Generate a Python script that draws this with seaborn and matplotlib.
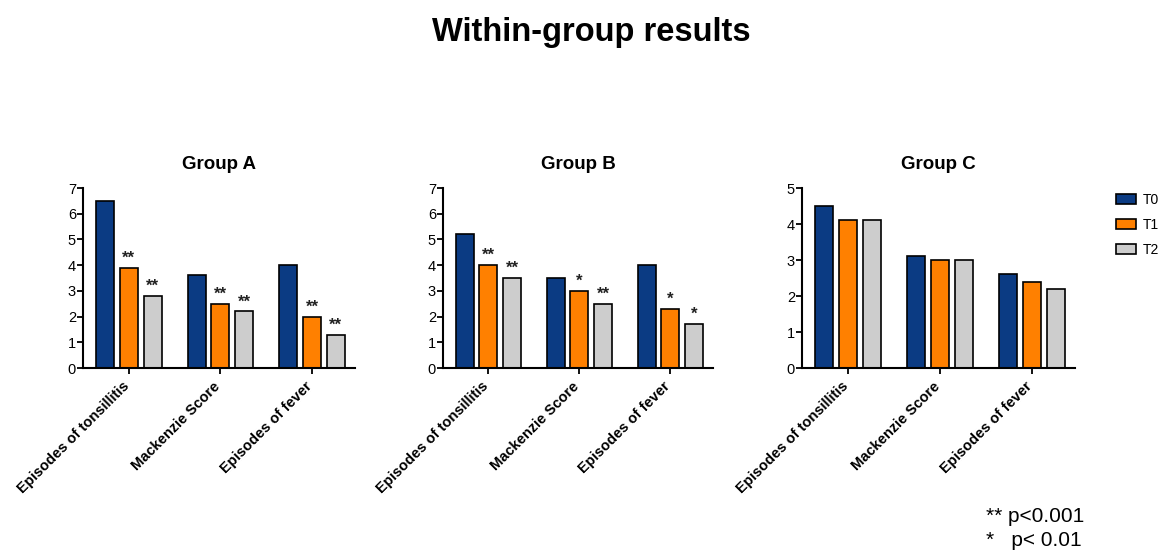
import matplotlib
matplotlib.use("Agg")
import matplotlib.pyplot as plt
import matplotlib.transforms as mtransforms
import seaborn as sns
import pandas as pd
from matplotlib.patches import Patch

sns.set_theme(style="white")
plt.rcParams["font.family"] = ["Liberation Sans", "DejaVu Sans"]
plt.rcParams["text.color"] = "black"
plt.rcParams["xtick.color"] = "black"
plt.rcParams["ytick.color"] = "black"

measures = ["Episodes of tonsillitis", "Mackenzie Score", "Episodes of fever"]
times = ["T0", "T1", "T2"]

group_a_t0 = [6.5, 3.6, 4.0]
group_a_t1 = [3.9, 2.5, 2.0]
group_a_t2 = [2.8, 2.2, 1.3]

group_b_t0 = [5.2, 3.5, 4.0]
group_b_t1 = [4.0, 3.0, 2.3]
group_b_t2 = [3.5, 2.5, 1.7]

group_c_t0 = [4.5, 3.1, 2.6]
group_c_t1 = [4.1, 3.0, 2.4]
group_c_t2 = [4.1, 3.0, 2.2]

# significance marks vs. T0 (T0 bars carry none)
stars_a_t1 = ["**", "**", "**"]
stars_a_t2 = ["**", "**", "**"]
stars_b_t1 = ["**", "*", "*"]
stars_b_t2 = ["**", "**", "*"]
stars_c_t1 = ["", "", ""]
stars_c_t2 = ["", "", ""]

colors = ["#0b3b83", "#ff8000", "#cdcdcd"]

panels = [
    ("Group A", [group_a_t0, group_a_t1, group_a_t2], [None, stars_a_t1, stars_a_t2], 7),
    ("Group B", [group_b_t0, group_b_t1, group_b_t2], [None, stars_b_t1, stars_b_t2], 7),
    ("Group C", [group_c_t0, group_c_t1, group_c_t2], [None, stars_c_t1, stars_c_t2], 5),
]

W, H = 1166, 551
fig = plt.figure(figsize=(W / 100, H / 100), dpi=100)

# axes rectangles in pixels: left, right, top, bottom
boxes = [(83, 355, 188, 368), (443, 713, 188, 368), (802, 1075, 188, 368)]

label_shift = mtransforms.ScaledTranslation(-7 / 100, -3 / 100, fig.dpi_scale_trans)

for (title, series, stars, ymax), (l, r, t, b) in zip(panels, boxes):
    ax = fig.add_axes([l / W, 1 - b / H, (r - l) / W, (b - t) / H])
    rows = []
    for time, vals in zip(times, series):
        for m, v in zip(measures, vals):
            rows.append({"measure": m, "time": time, "value": v})
    df = pd.DataFrame(rows)
    sns.barplot(data=df, x="measure", y="value", hue="time", order=measures,
                hue_order=times, palette=colors, saturation=1, edgecolor="black",
                linewidth=1.2, width=0.78, gap=0.24, errorbar=None, legend=False, ax=ax)
    for cont, marks in zip(ax.containers, stars):
        if marks is None:
            continue
        for patch, s in zip(cont.patches, marks):
            if s:
                ax.annotate(s, (patch.get_x() + patch.get_width() / 2, patch.get_height()),
                            xytext=(0, 1.5), textcoords="offset points",
                            ha="center", va="bottom", fontsize=12, fontweight="bold",
                            color="#222222")
    ax.set_xlim(-0.5, 2.47)
    ax.set_ylim(0, ymax)
    ax.set_yticks(range(0, ymax + 1))
    ax.set_xlabel("")
    ax.set_ylabel("")
    ax.set_title(title, fontsize=13.5, fontweight="bold", pad=14)
    for side in ["top", "right"]:
        ax.spines[side].set_visible(False)
    for side in ["left", "bottom"]:
        ax.spines[side].set_color("black")
        ax.spines[side].set_linewidth(1.5)
    ax.tick_params(axis="y", which="major", direction="out", length=4, width=1.3,
                   labelsize=10.5, left=True, pad=1)
    ax.tick_params(axis="x", which="major", direction="out", length=4, width=1.3,
                   bottom=True, pad=2)
    ax.set_xticks(range(len(measures)))
    ax.set_xticklabels(measures, rotation=45, ha="right", rotation_mode="anchor",
                       fontsize=10.5, fontweight="bold")
    for lab in ax.get_xticklabels():
        lab.set_transform(lab.get_transform() + label_shift)

fig.text(591 / W, 1 - 32 / H, "Within-group results", ha="center", va="center",
         fontsize=23.5, fontweight="bold")

handles = [Patch(facecolor=c, edgecolor="black", linewidth=1.2) for c in colors]
fig.legend(handles, times, loc="upper left", bbox_to_anchor=(1116 / W, 1 - 193 / H),
           frameon=False, fontsize=10, handlelength=1.45, handleheight=0.75,
           labelspacing=0.8, handletextpad=0.45, borderpad=0, borderaxespad=0)

fig.text(986 / W, 1 - 517 / H, "** p<0.001", ha="left", va="center", fontsize=15)
fig.text(986 / W, 1 - 541 / H, "*   p< 0.01", ha="left", va="center", fontsize=15)

fig.savefig("out.png", dpi=100)
